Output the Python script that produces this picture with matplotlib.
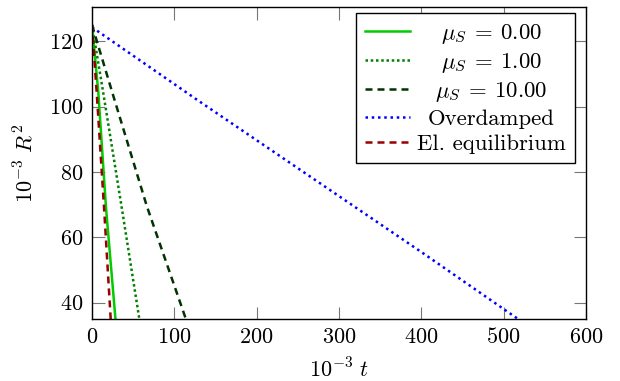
import numpy as np
import matplotlib
matplotlib.use("Agg")
import matplotlib.pyplot as plt
from matplotlib.transforms import Affine2D

plt.rcParams['font.family'] = 'serif'
plt.rcParams['font.serif'] = ['cmr10']
plt.rcParams['mathtext.fontset'] = 'cm'
plt.rcParams['axes.formatter.use_mathtext'] = True

# values (t and R^2 both in units of 10^-3)
t_mu0 = [0, 7.7, 17, 28.5]
r_mu0 = [125, 104.3, 69.1, 35]
t_mu1 = [0, 13.7, 36.1, 57.5]
r_mu1 = [125, 104.2, 69.1, 35]
t_mu10 = [0, 26, 66.5, 114]
r_mu10 = [125, 103.2, 69.6, 35]
t_over = [0, 127, 400, 517.5]
r_over = [124.3, 102.2, 55.5, 35]
t_eq = [0, 5.7, 14.6, 22.7]
r_eq = [125, 104.3, 69.2, 35]

labels = [r'$\mu_S\:=\:0.00$', r'$\mu_S\:=\:1.00$', r'$\mu_S\:=\:10.00$',
          'Overdamped', 'El. equilibrium']
xticks = [0, 100, 200, 300, 400, 500, 600]
yticks = [40, 60, 80, 100, 120]

fig = plt.figure(figsize=(6.2, 3.81), dpi=100)
ax = fig.add_axes([92/620, 1-319/381, 494/620, 312/381])

lw = 1.8
ax.plot(t_mu0, r_mu0, color='#00cc00', lw=lw, label=labels[0])
ax.plot(t_mu1, r_mu1, color='#008000', lw=lw, ls=(0, (1, 1.1)), label=labels[1])
ax.plot(t_mu10, r_mu10, color='#003300', lw=lw, ls=(0, (2.8, 2.0)), label=labels[2])
ax.plot(t_over, r_over, color='#0000ff', lw=lw, ls=(0, (1, 1.5)), label=labels[3])
ax.plot(t_eq, r_eq, color='#990000', lw=lw, ls=(0, (2.8, 2.0)), label=labels[4])

ax.set_xlim(0, 600)
ax.set_ylim(35, 130.5)
ax.set_xticks(xticks)
ax.set_yticks(yticks)
ax.tick_params(direction='in', length=9, width=0.8, color='#777777',
               top=True, right=True, labelsize=16, pad=6)
for s in ax.spines.values():
    s.set_linewidth(1.0)

ax.set_xlabel(r'$10^{-3}\ t$', fontsize=16, labelpad=7)
ax.set_ylabel(r'$10^{-3}\ R^2$', fontsize=16, labelpad=9)

leg = ax.legend(loc='upper right', fontsize=16.4, frameon=True, fancybox=False,
                edgecolor='black', framealpha=1, handlelength=2.0,
                handletextpad=0.3, labelspacing=0.22, borderpad=0.4,
                borderaxespad=0, bbox_to_anchor=(0.978, 0.981))
leg.get_frame().set_linewidth(1.0)

# centre the legend texts like the original
fig.canvas.draw()
r = fig.canvas.get_renderer()
ws = [t.get_window_extent(r).width for t in leg.get_texts()]
for t, w in zip(leg.get_texts(), ws):
    t.set_transform(t.get_transform() + Affine2D().translate((max(ws) - w) / 2, 0))

fig.savefig('out.png', dpi=100)
